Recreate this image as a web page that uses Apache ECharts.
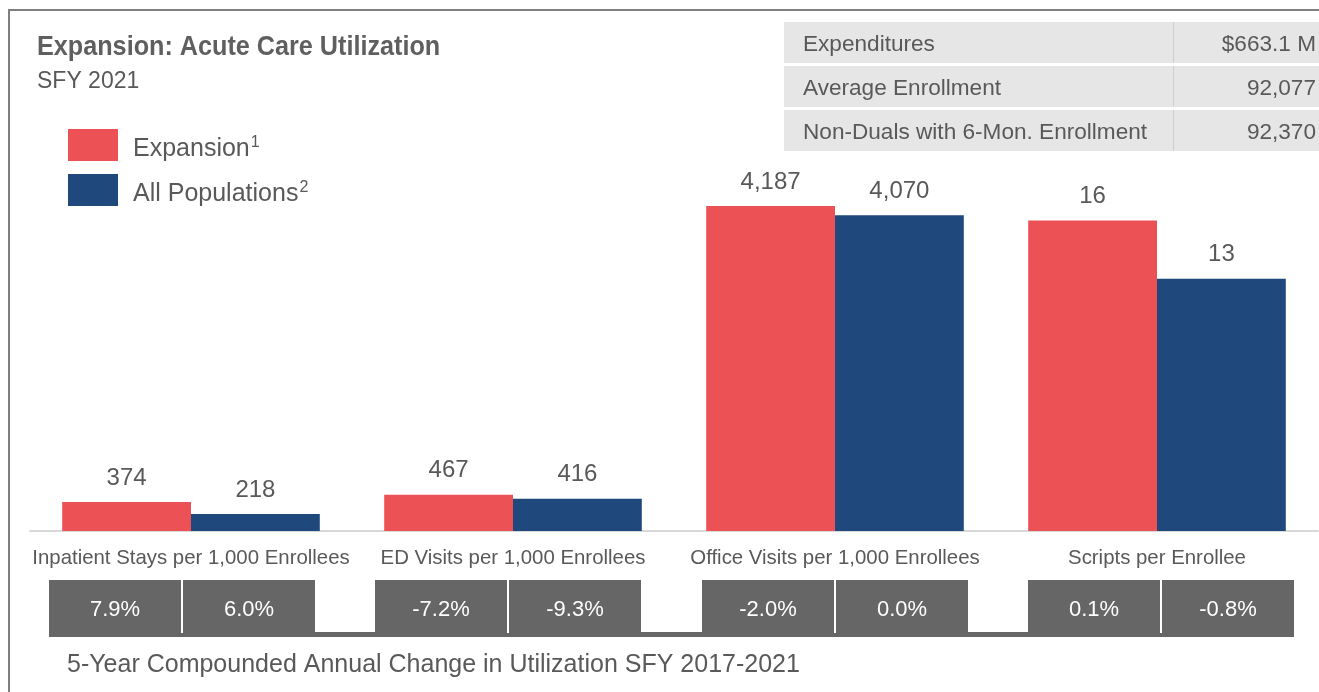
<!DOCTYPE html>
<html>
<head>
<meta charset="utf-8">
<script src="https://cdn.jsdelivr.net/npm/echarts@6/dist/echarts.min.js"></script>
<style>html,body{margin:0;padding:0;background:#fff}#c{width:1319px;height:692px}</style>
</head>
<body>
<div id="c"></div>
<script>
const categories = ['Inpatient Stays per 1,000 Enrollees', 'ED Visits per 1,000 Enrollees', 'Office Visits per 1,000 Enrollees', 'Scripts per Enrollee'];
const seriesNames = ['Expansion', 'All Populations'];
const footnotes = ['1', '2'];
const expansion = [374, 467, 4187, 16];
const allPops = [218, 416, 4070, 13];
const expansionChange = ['7.9%', '-7.2%', '-2.0%', '0.1%'];
const allPopsChange = ['6.0%', '-9.3%', '0.0%', '-0.8%'];
const infoLabels = ['Expenditures', 'Average Enrollment', 'Non-Duals with 6-Mon. Enrollment'];
const infoValues = ['$663.1 M', '92,077', '92,370'];
const titleText = 'Expansion: Acute Care Utilization';
const subtitleText = 'SFY 2021';
const footerText = '5-Year Compounded Annual Change in Utilization SFY 2017-2021';

const RED = '#EB5155', BLUE = '#1F497D', TXT = '#595959', FONT = 'Liberation Sans, Arial, sans-serif';

const chart = echarts.init(document.getElementById('c'));

const labelCfg = {
  show: true, position: 'top', distance: 12, fontSize: 24, color: TXT, fontFamily: FONT,
  formatter: p => Number(p.value).toLocaleString('en-US')
};
function barSeries(name, color, data, idx) {
  return {
    type: 'bar', name: name, xAxisIndex: idx, yAxisIndex: idx, data: data,
    barGap: '0%', barCategoryGap: '20%', itemStyle: { color: color }, label: labelCfg
  };
}
const xAxisBase = {
  type: 'category',
  axisLine: { lineStyle: { color: '#D9D9D9', width: 2 } },
  axisTick: { show: false },
  axisLabel: { interval: 0, fontSize: 20.4, color: TXT, fontFamily: FONT, margin: 17 }
};
const yAxisBase = { type: 'value', min: 0, show: false, splitLine: { show: false } };

const graphics = [];
// frame
graphics.push({ type: 'polyline', shape: { points: [[9, 692], [9, 10], [1319, 10]] }, style: { stroke: '#7F7F7F', lineWidth: 2, fill: null } });
// title
graphics.push({ type: 'text', x: 37, y: 47, scaleX: 0.9, style: { text: titleText, font: 'bold 28px ' + FONT, fill: '#5F5F5F', textVerticalAlign: 'middle', verticalAlign: 'middle' } });
graphics.push({ type: 'text', x: 37, y: 82, style: { text: subtitleText, font: '23px ' + FONT, fill: TXT, textVerticalAlign: 'middle', verticalAlign: 'middle' } });
// info table
const rowTops = [22, 66, 110], rowH = 41;
infoLabels.forEach((lab, i) => {
  graphics.push({ type: 'rect', shape: { x: 784, y: rowTops[i], width: 535, height: rowH }, style: { fill: '#E6E6E6' } });
  graphics.push({ type: 'rect', shape: { x: 1173, y: rowTops[i], width: 1, height: rowH }, style: { fill: '#CFCFCF' } });
  graphics.push({ type: 'text', x: 803, y: rowTops[i] + rowH / 2 + 2, style: { text: lab, font: '22.6px ' + FONT, fill: TXT, textVerticalAlign: 'middle', verticalAlign: 'middle' } });
  graphics.push({ type: 'text', x: 1316, y: rowTops[i] + rowH / 2 + 2, style: { text: infoValues[i], font: '22.6px ' + FONT, fill: TXT, textAlign: 'right', align: 'right', textVerticalAlign: 'middle', verticalAlign: 'middle' } });
});
// change boxes
const boxStarts = [49, 375, 702, 1028], boxW = 266;
graphics.push({ type: 'rect', shape: { x: 49, y: 632, width: 1245, height: 5 }, style: { fill: '#666666' } });
boxStarts.forEach((x0, i) => {
  graphics.push({ type: 'rect', shape: { x: x0, y: 580, width: boxW, height: 57 }, style: { fill: '#666666' } });
  graphics.push({ type: 'rect', shape: { x: x0 + 132, y: 580, width: 2, height: 53 }, style: { fill: '#FFFFFF' } });
  graphics.push({ type: 'text', x: x0 + 66, y: 610, style: { text: expansionChange[i], font: '22px ' + FONT, fill: '#FFFFFF', textAlign: 'center', align: 'center', textVerticalAlign: 'middle', verticalAlign: 'middle' } });
  graphics.push({ type: 'text', x: x0 + 200, y: 610, style: { text: allPopsChange[i], font: '22px ' + FONT, fill: '#FFFFFF', textAlign: 'center', align: 'center', textVerticalAlign: 'middle', verticalAlign: 'middle' } });
});
graphics.push({ type: 'text', x: 67, y: 665, style: { text: footerText, font: '25px ' + FONT, fill: TXT, textVerticalAlign: 'middle', verticalAlign: 'middle' } });

chart.setOption({
  animation: false,
  backgroundColor: '#FFFFFF',
  legend: {
    data: seriesNames, orient: 'vertical', left: 68, top: 129, padding: 0,
    itemWidth: 50, itemHeight: 32, itemGap: 12, icon: 'rect',
    formatter: name => '{n|' + name + '}{s|' + footnotes[seriesNames.indexOf(name)] + '}',
    textStyle: {
      color: TXT, fontFamily: FONT, fontSize: 25, padding: [9, 0, 0, 10],
      rich: { n: { fontSize: 25, color: TXT, fontFamily: FONT }, s: { fontSize: 16, color: TXT, fontFamily: FONT, verticalAlign: 'bottom', padding: [0, 0, 13, 1] } }
    }
  },
  grid: [
    { left: 30, width: 966, top: 143, bottom: 161 },
    { left: 996, width: 322, top: 143, bottom: 161 }
  ],
  xAxis: [
    Object.assign({}, xAxisBase, { gridIndex: 0, data: categories.slice(0, 3) }),
    Object.assign({}, xAxisBase, { gridIndex: 1, data: categories.slice(3) })
  ],
  yAxis: [
    Object.assign({}, yAxisBase, { gridIndex: 0, max: 5000 }),
    Object.assign({}, yAxisBase, { gridIndex: 1, max: 20 })
  ],
  series: [
    barSeries(seriesNames[0], RED, expansion.slice(0, 3), 0),
    barSeries(seriesNames[1], BLUE, allPops.slice(0, 3), 0),
    barSeries(seriesNames[0], RED, expansion.slice(3), 1),
    barSeries(seriesNames[1], BLUE, allPops.slice(3), 1)
  ],
  graphic: graphics
});
</script>
</body>
</html>
